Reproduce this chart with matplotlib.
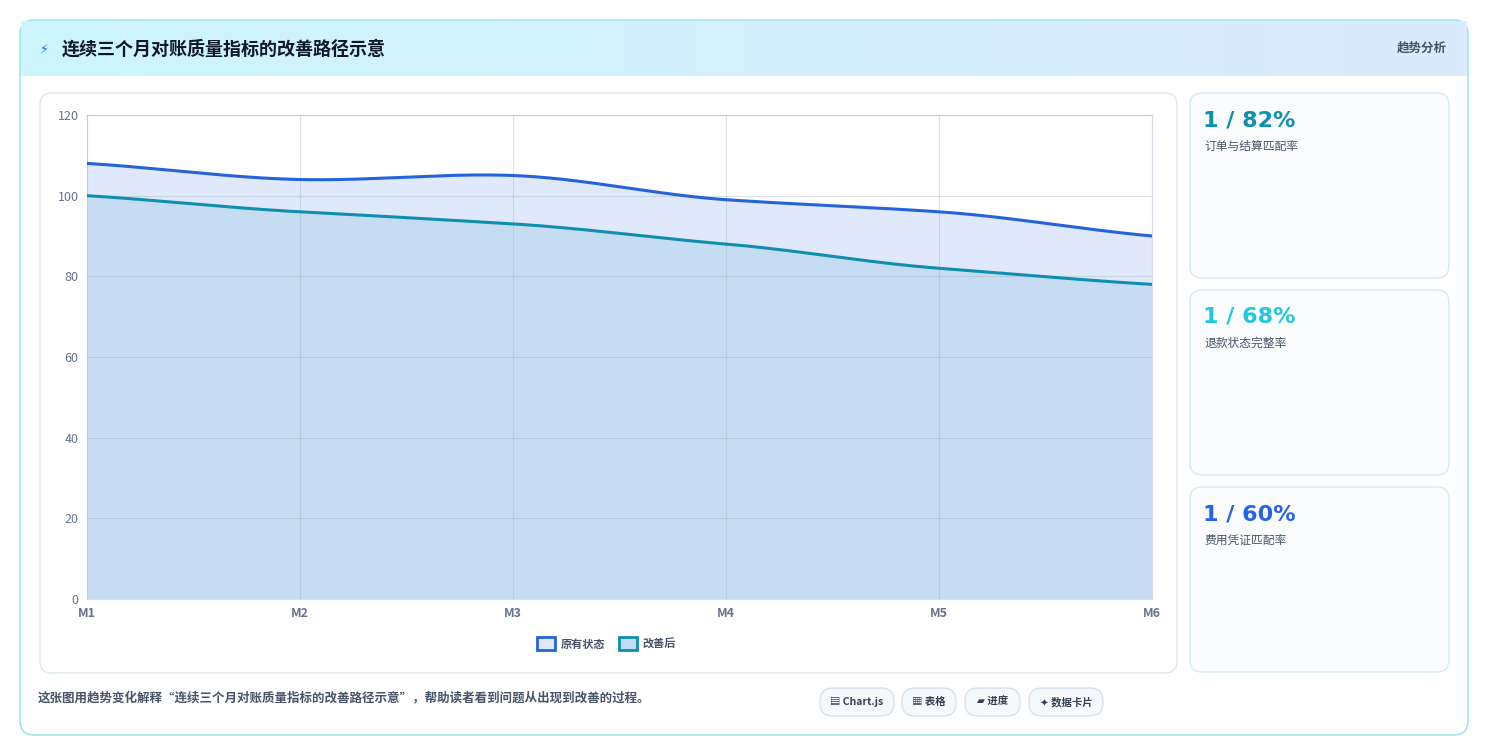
import matplotlib
matplotlib.use("Agg")
import matplotlib.pyplot as plt
from matplotlib.patches import FancyBboxPatch, Rectangle
import numpy as np

plt.rcParams['font.family'] = ['Noto Sans CJK SC', 'DejaVu Sans']

months = ["M1", "M2", "M3", "M4", "M5", "M6"]
original = [108, 104, 105, 99, 96, 90]
improved = [100, 96, 93, 88, 82, 78]
yticks = [0, 20, 40, 60, 80, 100, 120]
cards = [("1 / 82%", "订单与结算匹配率", "#0e8fb0"),
         ("1 / 68%", "退款状态完整率", "#22c8e0"),
         ("1 / 60%", "费用凭证匹配率", "#2563eb")]
chips = ["▤ Chart.js", "▦ 表格", "▰ 进度", "✦ 数据卡片"]

W, H = 1489, 756
fig = plt.figure(figsize=(W/100, H/100), dpi=100)
bg = fig.add_axes([0, 0, 1, 1]); bg.set_xlim(0, W); bg.set_ylim(H, 0); bg.axis('off')

def rbox(x, y, w, h, r, fc, ec, lw=1, z=1):
    bg.add_patch(FancyBboxPatch((x, y), w, h, boxstyle=f"round,pad=0,rounding_size={r}",
                                fc=fc, ec=ec, lw=lw, zorder=z))

rbox(20, 20, 1448, 715, 14, "#ffffff", "#8fe0ea", 1)
grad = np.linspace(0, 1, 256)[None, :]
from matplotlib.colors import LinearSegmentedColormap
cm = LinearSegmentedColormap.from_list("g", ["#ccf6fb", "#dbeafe"])
bg.imshow(grad, cmap=cm, extent=(21, 1467, 76, 21), aspect='auto', zorder=2)
bg.text(40, 49, "⚡", fontsize=9, color="#2563eb", va='center', zorder=3, family=['DejaVu Sans'])
bg.text(62, 49, "连续三个月对账质量指标的改善路径示意", fontsize=13, weight='bold', color="#0f172a", va='center', zorder=3)
bg.text(1447, 48, "趋势分析", fontsize=9, weight='bold', color="#475569", va='center', ha='right', zorder=3)

rbox(40, 93, 1137, 580, 12, "#ffffff", "#dbe7ef", 1)
for i, (v, lab, c) in enumerate(cards):
    y0 = 93 + i*197
    rbox(1190, y0, 259, 185, 12, "#fafcfe", "#d6eaf1", 1)
    bg.text(1203, y0 + 27, v, fontsize=16, weight='bold', color=c, va='center', family=['DejaVu Sans'])
    bg.text(1204, y0 + 53, lab, fontsize=8.5, color="#475569", va='center')

bg.text(38, 698, "这张图用趋势变化解释\u201c连续三个月对账质量指标的改善路径示意\u201d，帮助读者看到问题从出现到改善的过程。",
        fontsize=9, weight='bold', color="#475569", va='center')
cx = [820, 902, 965, 1029]; cw = [74, 54, 55, 74]
for x, w, t in zip(cx, cw, chips):
    rbox(x, 688, w, 28, 13, "#f6f9fb", "#d6e2ea", 1)
    bg.text(x + w/2, 702, t, fontsize=7.5, weight='bold', color="#334155", ha='center', va='center',
            family=['Noto Sans CJK SC', 'DejaVu Sans'])

ax = fig.add_axes([87/W, 1-599/H, (1152-87)/W, (599-115)/H])
x = np.arange(len(months))

def smooth(y, n=60):
    y = np.asarray(y, float)
    m = np.gradient(y)
    xs, ys = [], []
    for i in range(len(y)-1):
        t = np.linspace(0, 1, n)
        h00 = 2*t**3-3*t**2+1; h10 = t**3-2*t**2+t; h01 = -2*t**3+3*t**2; h11 = t**3-t**2
        xs.append(i+t); ys.append(h00*y[i]+h10*m[i]*0.8+h01*y[i+1]+h11*m[i+1]*0.8)
    return np.concatenate(xs), np.concatenate(ys)

xo, yo = smooth(original); xi, yi = smooth(improved)
ax.fill_between(xo, yo, 0, color="#e0e9fb", zorder=1)
ax.fill_between(xi, yi, 0, color="#c5dcf2", zorder=2)
ax.plot(xo, yo, color="#2563db", lw=2.2, zorder=4)
ax.plot(xi, yi, color="#0e8fb0", lw=2.2, zorder=4)
ax.set_xlim(0, 5); ax.set_ylim(0, 120)
ax.set_xticks(x); ax.set_xticklabels(months, fontsize=9, weight='bold', color="#64748b")
ax.set_yticks(yticks); ax.set_yticklabels([str(v) for v in yticks], fontsize=9, color="#64748b")
ax.grid(True, color="#94a3b8", alpha=0.3, lw=0.8, zorder=3)
ax.set_axisbelow(False)
for s in ax.spines.values(): s.set_color("#d7dee6"); s.set_linewidth(0.8)
ax.tick_params(length=0, pad=6)

for lx, c, fc, t in [(537, "#2563db", "#e0e9fb", "原有状态"), (619, "#0e8fb0", "#c5dcf2", "改善后")]:
    bg.add_patch(Rectangle((lx, 637), 18, 13, fc=fc, ec=c, lw=2, zorder=5))
    bg.text(lx + 24, 644, t, fontsize=8, weight='bold', color="#475569", va='center', zorder=5)

fig.savefig("out.png", dpi=100)
